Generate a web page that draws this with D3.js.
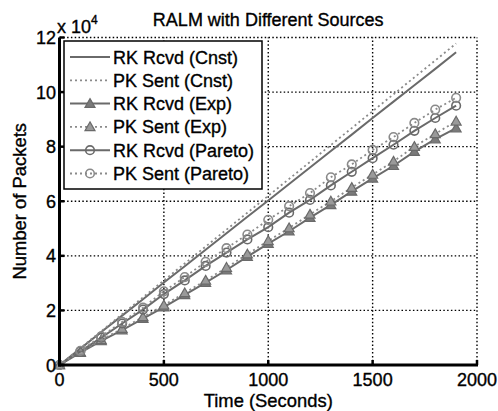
<!DOCTYPE html>
<html>
<head>
<meta charset="utf-8">
<script src="https://cdn.jsdelivr.net/npm/d3@7"></script>
<style>
  html, body { margin: 0; padding: 0; background: #fff; }
  svg { display: block; font-family: "Liberation Sans", Arial, sans-serif; }
  svg text { fill: #000; stroke: #000; stroke-width: 0.35px; }
</style>
</head>
<body>
<svg id="chart" width="498" height="411"></svg>
<script>
// Sample times (seconds)
const times = [0,100,200,300,400,500,600,700,800,900,1000,1100,1200,1300,1400,1500,1600,1700,1800,1900];

// Packet counts (in packets)
const rkCnst   = [0,6000,12100,18100,24100,30200,36200,42200,48300,54300,60300,66300,72400,78400,84400,90500,96500,102500,108500,114600];
const pkCnst   = [0,6200,12400,18600,24800,31000,37200,43400,49600,55800,62000,68200,74400,80600,86800,93000,99200,105400,111600,117800];
const rkExp    = [0,4500,8800,12800,17000,21200,25700,30200,34800,39700,44500,49000,54000,58700,63600,68400,73000,78200,82800,86800];
const pkExp    = [0,4700,9200,13300,17600,21900,26400,31000,35700,40600,45500,50200,55200,60000,65000,69800,74600,80000,84700,89300];
const rkPareto = [0,5000,10000,15200,20300,26000,31000,36300,41200,46000,50500,55800,60500,65800,70800,75800,80700,85800,90500,95000];
const pkPareto = [0,5200,10500,15800,21000,27000,32200,37800,42800,47800,53200,58200,63000,68800,73500,78800,83500,88700,93600,97900];

const xTicks = [0,500,1000,1500,2000];
const yTicks = [0,20000,40000,60000,80000,100000,120000];

const legendLabels = ["RK Rcvd (Cnst)","PK Sent (Cnst)","RK Rcvd (Exp)","PK Sent (Exp)","RK Rcvd (Pareto)","PK Sent (Pareto)"];

const series = [
  {name: legendLabels[0], values: rkCnst,   dash: null,  marker: null},
  {name: legendLabels[1], values: pkCnst,   dash: "2,3", marker: null},
  {name: legendLabels[2], values: rkExp,    dash: null,  marker: "tri"},
  {name: legendLabels[3], values: pkExp,    dash: "2,3", marker: "tri"},
  {name: legendLabels[4], values: rkPareto, dash: null,  marker: "circ"},
  {name: legendLabels[5], values: pkPareto, dash: "2,3", marker: "circ"}
];

const svg = d3.select("#chart");
const plotLeft = 59.5, plotRight = 477, plotTop = 37.5, plotBottom = 365;

const x = d3.scaleLinear().domain([0, 2000]).range([plotLeft, plotRight]);
const y = d3.scaleLinear().domain([0, 120000]).range([plotBottom, plotTop]);

const lineGray = "#6a6a6a";
const dotGray = "#8a8a8a";

// Grid lines (dotted), including the top and right frame edges
const grid = svg.append("g");
xTicks.forEach(t => {
  if (t === 0) return;
  grid.append("line")
    .attr("x1", x(t)).attr("x2", x(t)).attr("y1", plotBottom).attr("y2", plotTop)
    .attr("stroke", "#000").attr("stroke-width", 1.4).attr("stroke-dasharray", "1.5,2.3");
});
yTicks.forEach(t => {
  if (t === 0) return;
  grid.append("line")
    .attr("x1", plotLeft).attr("x2", plotRight).attr("y1", y(t)).attr("y2", y(t))
    .attr("stroke", "#000").attr("stroke-width", 1.4).attr("stroke-dasharray", "1.5,2.3");
});

// Data lines
const line = d3.line().x((d, i) => x(times[i])).y(d => y(d));
const plot = svg.append("g");

function drawMarker(g, type, cx, cy, dashed) {
  if (type === "tri") {
    const s = 5;
    g.append("path")
      .attr("d", `M${cx},${cy - s}L${cx + s},${cy + s * 0.75}L${cx - s},${cy + s * 0.75}Z`)
      .attr("fill", dashed ? "#9a9a9a" : "#7a7a7a")
      .attr("stroke", lineGray).attr("stroke-width", 1.2);
  } else if (type === "circ") {
    g.append("circle")
      .attr("cx", cx).attr("cy", cy).attr("r", 4.3)
      .attr("fill", "none")
      .attr("stroke", dashed ? dotGray : lineGray).attr("stroke-width", 1.6);
  }
}

series.forEach(s => {
  plot.append("path")
    .datum(s.values)
    .attr("d", line)
    .attr("fill", "none")
    .attr("stroke", s.dash ? dotGray : lineGray)
    .attr("stroke-width", s.dash ? 1.8 : 2)
    .attr("stroke-dasharray", s.dash);
  if (s.marker) {
    const mg = plot.append("g");
    s.values.forEach((v, i) => drawMarker(mg, s.marker, x(times[i]), y(v), !!s.dash));
  }
});

// Axes: thick left and bottom with inward ticks
const axisG = svg.append("g");
axisG.append("line").attr("x1", plotLeft).attr("x2", plotLeft).attr("y1", plotBottom + 1.5).attr("y2", plotTop)
  .attr("stroke", "#000").attr("stroke-width", 3);
axisG.append("line").attr("x1", plotLeft - 1.5).attr("x2", plotRight + 1).attr("y1", plotBottom).attr("y2", plotBottom)
  .attr("stroke", "#000").attr("stroke-width", 3);

xTicks.forEach(t => {
  axisG.append("line").attr("x1", x(t)).attr("x2", x(t)).attr("y1", plotBottom).attr("y2", plotBottom - 5)
    .attr("stroke", "#000").attr("stroke-width", 2.5);
  axisG.append("text")
    .attr("x", x(t)).attr("y", 386)
    .attr("text-anchor", "middle").attr("font-size", 18)
    .text(d3.format("d")(t));
});
yTicks.forEach(t => {
  axisG.append("line").attr("x1", plotLeft).attr("x2", plotLeft + 5).attr("y1", y(t)).attr("y2", y(t))
    .attr("stroke", "#000").attr("stroke-width", 2.5);
  axisG.append("text")
    .attr("x", 56).attr("y", y(t) + 6.5)
    .attr("text-anchor", "end").attr("font-size", 18)
    .text(t / 10000);
});

// Exponent label
const ex = svg.append("text").attr("x", 57).attr("y", 33).attr("font-size", 18);
ex.append("tspan").text("x 10");
ex.append("tspan").attr("dy", -9).attr("font-size", 12).text("4");

// Title and axis labels
svg.append("text")
  .attr("x", (plotLeft + plotRight) / 2).attr("y", 26)
  .attr("text-anchor", "middle").attr("font-size", 18)
  .text("RALM with Different Sources");

svg.append("text")
  .attr("x", (plotLeft + plotRight) / 2).attr("y", 407)
  .attr("text-anchor", "middle").attr("font-size", 18.4)
  .text("Time (Seconds)");

svg.append("text")
  .attr("transform", `translate(26,${(plotTop + plotBottom) / 2}) rotate(-90)`)
  .attr("text-anchor", "middle").attr("font-size", 18.4)
  .text("Number of Packets");

// Legend
const lg = svg.append("g");
lg.append("rect").attr("x", 64).attr("y", 41).attr("width", 198).attr("height", 148)
  .attr("fill", "#fff").attr("stroke", "#000").attr("stroke-width", 1.5);
series.forEach((s, i) => {
  const ly = 57 + i * 23.3;
  lg.append("line").attr("x1", 70).attr("x2", 110).attr("y1", ly).attr("y2", ly)
    .attr("stroke", s.dash ? dotGray : lineGray)
    .attr("stroke-width", s.dash ? 1.8 : 2)
    .attr("stroke-dasharray", s.dash);
  if (s.marker) drawMarker(lg, s.marker, 90, ly, !!s.dash);
  lg.append("text").attr("x", 113).attr("y", ly + 6.5)
    .attr("font-size", 18).text(s.name);
});
</script>
</body>
</html>
